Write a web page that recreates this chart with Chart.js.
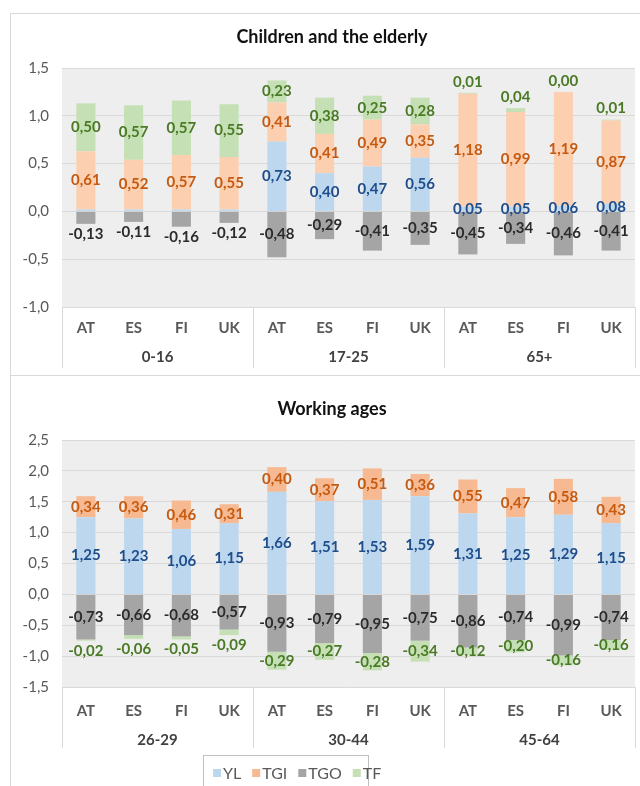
<!DOCTYPE html>
<html>
<head>
<meta charset="utf-8">
<title>Children, elderly and working ages</title>
<script src="https://cdn.jsdelivr.net/npm/chart.js@4.4.1/dist/chart.umd.min.js"></script>
<style>
  html, body { margin: 0; padding: 0; background: #fff; }
  body { width: 640px; height: 786px; position: relative; overflow: hidden; }
  .panel { position: absolute; left: 10px; width: 640px; border: 1px solid #d9d9d9; }
  #panel-top { top: 13px; height: 361px; }
  #panel-bottom { top: 375px; height: 430px; }
  canvas { display: block; }
</style>
</head>
<body>
<div class="panel" id="panel-top"><canvas id="chart-top" width="629" height="360"></canvas></div>
<div class="panel" id="panel-bottom"><canvas id="chart-bottom" width="629" height="410"></canvas></div>

<script>
// categories
const countries = ['AT', 'ES', 'FI', 'UK', 'AT', 'ES', 'FI', 'UK', 'AT', 'ES', 'FI', 'UK'];
const groupsTop = ['0-16', '17-25', '65+'];
const groupsBottom = ['26-29', '30-44', '45-64'];
const seriesNames = ['YL', 'TGI', 'TGO', 'TF'];

// children and the elderly
const ylTop  = [0.02, 0.02, 0.02, 0.02, 0.73, 0.40, 0.47, 0.56, 0.05, 0.05, 0.06, 0.08];
const tgiTop = [0.61, 0.52, 0.57, 0.55, 0.41, 0.41, 0.49, 0.35, 1.18, 0.99, 1.19, 0.87];
const tgoTop = [-0.13, -0.11, -0.16, -0.12, -0.48, -0.29, -0.41, -0.35, -0.45, -0.34, -0.46, -0.41];
const tfTop  = [0.50, 0.57, 0.57, 0.55, 0.23, 0.38, 0.25, 0.28, 0.01, 0.04, 0.00, 0.01];

// working ages
const ylBottom  = [1.25, 1.23, 1.06, 1.15, 1.66, 1.51, 1.53, 1.59, 1.31, 1.25, 1.29, 1.15];
const tgiBottom = [0.34, 0.36, 0.46, 0.31, 0.40, 0.37, 0.51, 0.36, 0.55, 0.47, 0.58, 0.43];
const tgoBottom = [-0.73, -0.66, -0.68, -0.57, -0.93, -0.79, -0.95, -0.75, -0.86, -0.74, -0.99, -0.74];
const tfBottom  = [-0.02, -0.06, -0.05, -0.09, -0.29, -0.27, -0.28, -0.34, -0.12, -0.20, -0.16, -0.16];

const FONT = "Lato, 'DejaVu Sans', sans-serif";
const AXIS_COLOR = '#595959';
const GRID_COLOR = '#d9d9d9';
const PLOT_BG = '#eeeeee';
const LABEL_COLORS = ['#1f4e8c', '#c55a11', '#2b2b2b', '#4a7a26'];

function fmt(v) {
    return v.toFixed(2).replace('.', ',');
}

// plot background, title, two-level category axis, value labels and legend
const panelDecor = {
    id: 'panelDecor',
    beforeDraw(chart) {
        let a = chart.chartArea;
        let ctx = chart.ctx;
        ctx.save();
        ctx.fillStyle = PLOT_BG;
        ctx.fillRect(a.left, a.top, a.right - a.left, a.bottom - a.top);
        ctx.restore();
    },
    afterDatasetsDraw(chart) {
        let ctx = chart.ctx;
        ctx.save();
        ctx.font = 'bold 15px ' + FONT;
        ctx.textAlign = 'center';
        ctx.textBaseline = 'middle';
        chart.data.datasets.forEach(function (ds, di) {
            let meta = chart.getDatasetMeta(di);
            ctx.fillStyle = LABEL_COLORS[di];
            meta.data.forEach(function (bar, i) {
                let v = ds.data[i];
                if (v === null || Math.abs(v) < (ds.hideUnder || 0)) return;
                let y = (bar.y + bar.base) / 2;
                if (ds.outsideUnder && Math.abs(v) < ds.outsideUnder) {
                    y = v < 0 ? bar.y + 10 : bar.y - 11;
                }
                ctx.fillText(fmt(v), bar.x, y);
            });
        });
        ctx.restore();
    },
    afterDraw(chart, args, opts) {
        let ctx = chart.ctx;
        let a = chart.chartArea;
        let xs = chart.scales.x;
        let step = (a.right - a.left) / countries.length;

        ctx.save();
        // title
        ctx.fillStyle = '#111';
        ctx.font = 'bold 18px ' + FONT;
        ctx.textAlign = 'center';
        ctx.textBaseline = 'middle';
        ctx.fillText(opts.title, 321, opts.titleY);

        // group separators and group names
        ctx.strokeStyle = GRID_COLOR;
        ctx.lineWidth = 1;
        for (let g = 0; g <= opts.groups.length; g++) {
            let x = Math.round(a.left + g * 4 * step) + 0.5;
            ctx.beginPath();
            ctx.moveTo(x, a.bottom);
            ctx.lineTo(x, a.bottom + opts.sepLength);
            ctx.stroke();
        }
        ctx.fillStyle = '#404040';
        ctx.font = 'bold 15px ' + FONT;
        opts.groups.forEach(function (name, g) {
            let cx = (xs.getPixelForValue(g * 4) + xs.getPixelForValue(g * 4 + 3)) / 2;
            ctx.fillText(name, cx, a.bottom + opts.groupOffset);
        });

        // legend box
        if (opts.legend) {
            let lg = opts.legend;
            ctx.font = '16px ' + FONT;
            ctx.strokeStyle = '#bfbfbf';
            ctx.strokeRect(lg.left + 0.5, lg.top + 0.5, lg.width, 60);
            let x = lg.left + 10;
            chart.data.datasets.forEach(function (ds) {
                ctx.fillStyle = ds.legendColor || ds.backgroundColor;
                ctx.fillRect(x, lg.y - 4, 8, 8);
                ctx.fillStyle = AXIS_COLOR;
                ctx.textAlign = 'left';
                ctx.fillText(ds.label, x + 10, lg.y + 1);
                x += 10 + ctx.measureText(ds.label).width + 11;
            });
        }
        ctx.restore();
    }
};

function buildChart(canvasId, values, colors, cfg) {
    let datasets = seriesNames.map(function (name, k) {
        return {
            label: name,
            data: values[k],
            backgroundColor: colors[k],
            legendColor: colors[k],
            barPercentage: 0.4,
            categoryPercentage: 1,
            hideUnder: cfg.hideUnder[k],
            outsideUnder: cfg.outsideUnder[k]
        };
    });

    return new Chart(document.getElementById(canvasId), {
        type: 'bar',
        data: { labels: countries, datasets: datasets },
        options: {
            responsive: false,
            animation: false,
            layout: { padding: { left: 0, right: 5, top: cfg.top, bottom: cfg.bottomPad } },
            plugins: {
                legend: { display: false },
                tooltip: { enabled: false },
                panelDecor: {
                    title: cfg.title,
                    titleY: cfg.titleY,
                    groups: cfg.groups,
                    sepLength: 61,
                    groupOffset: cfg.groupOffset,
                    legend: cfg.legend
                }
            },
            scales: {
                x: {
                    stacked: true,
                    grid: { display: false, drawTicks: false },
                    border: { display: false },
                    ticks: {
                        color: AXIS_COLOR,
                        font: { family: FONT, size: 15, weight: 'bold' },
                        padding: cfg.tickPad,
                        maxRotation: 0,
                        autoSkip: false
                    },
                    afterFit: function (s) { s.height = cfg.xHeight; }
                },
                y: {
                    stacked: true,
                    min: cfg.min,
                    max: cfg.max,
                    grid: { color: GRID_COLOR, drawTicks: false },
                    border: { display: false },
                    ticks: {
                        stepSize: 0.5,
                        color: AXIS_COLOR,
                        font: { family: FONT, size: 15 },
                        padding: 13,
                        callback: function (v) { return v.toFixed(1).replace('.', ','); }
                    },
                    afterFit: function (s) { s.width = 51; }
                }
            }
        },
        plugins: [panelDecor]
    });
}

buildChart('chart-top', [ylTop, tgiTop, tgoTop, tfTop],
    ['#bdd7ee', '#fbcfb0', '#a5a5a5', '#c5e0b4'], {
        title: 'Children and the elderly',
        titleY: 23,
        groups: groupsTop,
        min: -1, max: 1.5,
        top: 54, bottomPad: 0, xHeight: 67,
        tickPad: 12,
        groupOffset: 50,
        hideUnder: [0.03, 0, 0, 0],
        outsideUnder: [0, 0, 0.2, 0.1]
    });

buildChart('chart-bottom', [ylBottom, tgiBottom, tgoBottom, tfBottom],
    ['#bdd7ee', '#f6b991', '#a5a5a5', '#c5e0b4'], {
        title: 'Working ages',
        titleY: 33,
        groups: groupsBottom,
        min: -1.5, max: 2.5,
        top: 64, bottomPad: 39, xHeight: 60,
        tickPad: 15,
        groupOffset: 53,
        hideUnder: [0, 0, 0, 0],
        outsideUnder: [0, 0, 0, 0.1],
        legend: { left: 192, top: 379, width: 165, y: 397 }
    });
</script>
</body>
</html>
